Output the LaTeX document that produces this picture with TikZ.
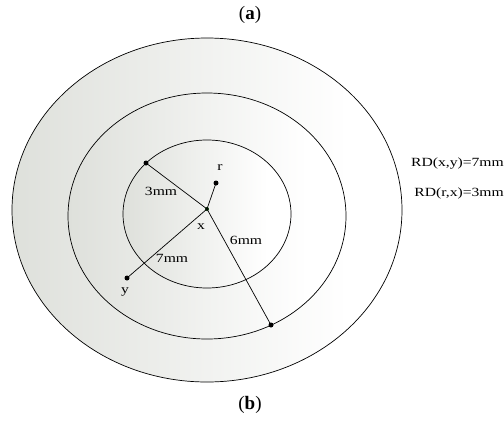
\documentclass[tikz,border=0pt]{standalone}
\usepackage{fontspec}
\newfontfamily\labfont[FakeStretch=1.25]{Liberation Serif}
\newfontfamily\capfont{Liberation Serif}
\definecolor{ringgray}{RGB}{222,224,219}
\pgfdeclarehorizontalshading{ringshade}{100bp}{color(0bp)=(ringgray); color(25bp)=(ringgray); color(68bp)=(white); color(100bp)=(white)}
\begin{document}
\begin{tikzpicture}[x=1pt,y=-1pt]
\tikzset{
  ring/.style={draw=black,line width=0.7pt,shading=ringshade},
  dotnode/.style={circle,fill=black,inner sep=0pt,minimum size=5pt},
  lab/.style={font=\labfont\fontsize{12.5}{14}\selectfont,inner sep=0pt},
  captxt/.style={font=\capfont\fontsize{19}{21}\selectfont,inner sep=0pt},
  seg/.style={line width=0.7pt}
}
\useasboundingbox (0,0) rectangle (504,421);
\shade[ring] (207,210) ellipse [x radius=195, y radius=172];
\shade[ring] (207,216) ellipse [x radius=139, y radius=123];
\shade[ring] (207,214) ellipse [x radius=84, y radius=74];
\node[dotnode] (p1) at (146,163) {};
\node[dotnode] (p2) at (271,325) {};
\node[dotnode] (r) at (216,183) {};
\node[dotnode] (y) at (127,278) {};
\node[circle,fill=black!80!green,inner sep=0pt,minimum size=4pt] (x) at (207,209) {};
\draw[seg] (p1.center) -- (x.center);
\draw[seg] (x.center) -- (p2.center);
\draw[seg] (x.center) -- (r.center);
\draw[seg] (x.center) -- (y.center);
\node[lab] (lr) at (220,168) {r};
\node[lab] (l3) at (161,191) {3mm};
\node[lab] (lx) at (201,227) {x};
\node[lab] (l6) at (246,240) {6mm};
\node[lab] (l7) at (172,258) {7mm};
\node[lab] (ly) at (125,292) {y};
\node[lab,anchor=east] (rd1) at (504,164) {RD(x,y)=7mm};
\node[lab,anchor=east] (rd2) at (504,193) {RD(r,x)=3mm};
\node[captxt] (ca) at (250,15) {(\textbf{a})};
\node[captxt] (cb) at (250,405) {(\textbf{b})};
\end{tikzpicture}
\end{document}
